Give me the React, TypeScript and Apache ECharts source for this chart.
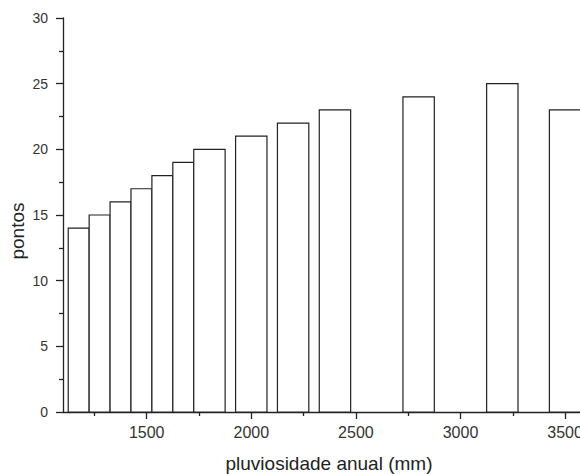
import React, { useEffect, useRef } from "react";
import * as echarts from "echarts";

const binLeft = [1125, 1225, 1325, 1425, 1525, 1625, 1725, 1925, 2125, 2325, 2725, 3125, 3425];
const binRight = [1225, 1325, 1425, 1525, 1625, 1725, 1875, 2075, 2275, 2475, 2875, 3275, 3575];
const points = [14, 15, 16, 17, 18, 19, 20, 21, 22, 23, 24, 25, 23];
const xMajorTicks = [1500, 2000, 2500, 3000, 3500];
const xMinorTicks = [1250, 1750, 2250, 2750, 3250];
const xTitle = "pluviosidade anual (mm)";
const yTitle = "pontos";

const FONT = "'Liberation Sans', Arial, sans-serif";

export default function App() {
  const ref = useRef<HTMLDivElement>(null);
  useEffect(() => {
    if (!ref.current) return;
    const chart = echarts.init(ref.current, undefined, { renderer: "svg" });
    const data = binLeft.map((l, i) => [l, binRight[i], points[i]]);
    chart.setOption({
      animation: false,
      backgroundColor: "#ffffff",
      grid: { left: 63, top: 18, right: 0, bottom: 62, containLabel: false },
      xAxis: [
        {
          type: "value",
          min: 1100,
          max: 3600,
          position: "bottom",
          axisLine: { show: true, lineStyle: { color: "#222", width: 1.3 } },
          axisTick: { show: true, customValues: xMajorTicks, length: 7, lineStyle: { color: "#222", width: 1.3 } },
          axisLabel: {
            show: true,
            customValues: xMajorTicks,
            margin: 12,
            color: "#333",
            fontSize: 16,
            fontFamily: FONT,
            formatter: (v: number) => String(v),
          },
          splitLine: { show: false },
        },
        {
          type: "value",
          min: 1100,
          max: 3600,
          position: "bottom",
          axisLine: { show: false },
          axisTick: { show: true, customValues: xMinorTicks, length: 4, lineStyle: { color: "#222", width: 1.3 } },
          axisLabel: { show: false },
          splitLine: { show: false },
        },
      ],
      yAxis: {
        type: "value",
        min: 0,
        max: 30,
        interval: 5,
        axisLine: { show: true, lineStyle: { color: "#222", width: 1.3 } },
        axisTick: { show: true, length: 7, lineStyle: { color: "#222", width: 1.3 } },
        minorTick: { show: true, splitNumber: 2, length: 4, lineStyle: { color: "#222", width: 1.3 } },
        axisLabel: { margin: 15, color: "#333", fontSize: 14, fontFamily: FONT },
        splitLine: { show: false },
      },
      graphic: [
        {
          type: "text",
          x: 329,
          y: 463,
          style: {
            text: xTitle,
            font: `19px ${FONT}`,
            fill: "#222",
            textAlign: "center",
            textVerticalAlign: "middle",
          },
        },
        {
          type: "text",
          x: 17,
          y: 231,
          rotation: Math.PI / 2,
          style: {
            text: yTitle,
            font: `19px ${FONT}`,
            fill: "#222",
            textAlign: "center",
            textVerticalAlign: "middle",
          },
        },
      ],
      series: [
        {
          type: "custom",
          xAxisIndex: 0,
          yAxisIndex: 0,
          data,
          encode: { x: [0, 1], y: 2 },
          renderItem: (params: any, api: any) => {
            const x0 = api.value(0);
            const x1 = api.value(1);
            const y = api.value(2);
            const p0 = api.coord([x0, y]);
            const p1 = api.coord([x1, 0]);
            return {
              type: "rect",
              shape: { x: p0[0], y: p0[1], width: p1[0] - p0[0], height: p1[1] - p0[1] },
              style: { fill: "#ffffff", stroke: "#222", lineWidth: 1.2 },
            };
          },
        },
      ],
    });
    return () => chart.dispose();
  }, []);
  return (
    <div style={{ position: "fixed", left: 0, top: 0, width: 580, height: 474, overflow: "hidden", background: "#fff" }}>
      <div ref={ref} style={{ width: 586, height: 474 }} />
    </div>
  );
}
